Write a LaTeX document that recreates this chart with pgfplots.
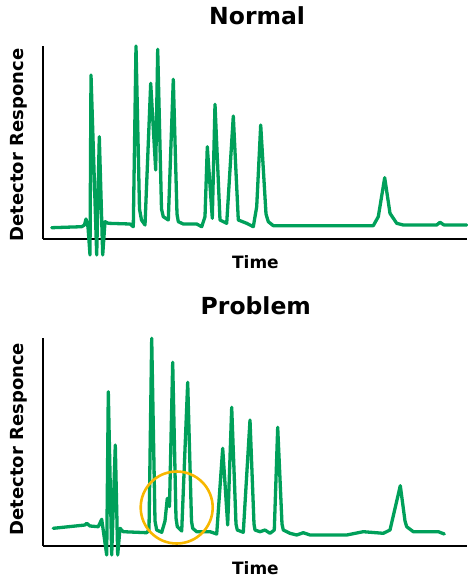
\documentclass[border=0pt]{standalone}
\usepackage{pgfplots}
\pgfplotsset{compat=1.18}
\usepackage{fontspec}
\setmainfont{DejaVu Sans}
\definecolor{tracegreen}{RGB}{0,160,90}
\definecolor{ringyellow}{RGB}{247,183,0}

\pgfplotstableread{
x y
51.7 11.3
81.7 12.3
84.5 14
86 20
88 12
90 -16
91 164
96.7 -16
99.3 102.3
102.7 -16
105 17.3
108.3 15.7
130 15
133.3 12.3
136 193
139.5 30
141.5 19
145 14
150.7 155.7
155.7 69
157.7 189.7
161.5 30
163.3 22.3
168.3 19
173.3 159.7
177 25
178.3 17.3
183.3 15
196.7 15
201.7 12.3
205 22.3
207.3 92.3
212.3 20.7
215 134.7
220 19
226.7 15.7
233.3 123
238.3 19
246.7 15.7
253.3 12.3
256.7 32.3
260.7 114
266 25
268.3 17.3
273.3 13.3
373.3 13.3
378.3 22.3
384.7 61.3
390 25.7
396.7 15.7
403.3 14
436.7 14
440 16.7
444 14
466.7 14
}\normaltrace

\pgfplotstableread{
x y
53.3 17.7
85 21
86.7 22.7
90 20
98.3 19.3
101.7 26.7
106.7 -9
108.3 154.3
111.7 -9
115.3 101
117.7 -9
120 17.7
123.3 14.3
146.7 13.3
149 16
151.7 207.7
155 25
156.7 16
161.7 13.7
165 25
167.3 47.7
169.5 39.5
172.7 183.7
176 28
177.3 19.3
181.7 15
187.7 163.7
191.5 25
192.7 17.7
196.7 14.3
210 14.3
216.7 12
222.7 97.7
227.7 21
231.7 138.7
236 22
237.3 16
243.3 13.7
250 126
254 22
255 16
260 14.3
265 16
270 12.7
274.3 16
277.7 118.7
282 22
283.3 16
290 12.7
296.7 11
303.3 13.3
310 11
346.7 11
363.3 14.3
383.3 12.7
390 16
400.3 60.3
405 25
406.7 19.3
413.3 14.3
438.3 14.3
444.3 12
}\problemtrace

\pgfplotsset{
  panel/.style={
    x=1bp, y=1bp,
    anchor=south west,
    xmin=43, xmax=467,
    axis x line=bottom, axis y line=left,
    axis line style={-, line width=2.8bp, black},
    xtick=\empty, ytick=\empty,
    clip=false,
    title style={font=\fontsize{23.5bp}{27bp}\selectfont\bfseries, anchor=base},
    xlabel style={font=\fontsize{17bp}{20bp}\selectfont\bfseries, anchor=base},
    ylabel style={font=\fontsize{18bp}{21bp}\selectfont\bfseries, anchor=base},
  },
  chromline/.style={color=tracegreen, line width=3.3bp, line join=round, line cap=round, mark=none},
}

\begin{document}
\begin{tikzpicture}
\path[use as bounding box] (0,0) rectangle (468bp,-578bp);

\begin{axis}[panel,
  at={(43bp,-239bp)},
  ymin=0, ymax=193,
  title={Normal},
  title style={at={(axis description cs:0.505,1.078)}},
  xlabel={Time},
  xlabel style={at={(axis description cs:0.501,-0.155)}},
  ylabel={Detector Responce},
  ylabel style={at={(axis description cs:-0.046,0.487)}},
]
\addplot[chromline] table[x=x,y=y] {\normaltrace};
\end{axis}

\begin{axis}[panel,
  at={(43bp,-546bp)},
  ymin=0, ymax=208,
  title={Problem},
  title style={at={(axis description cs:0.502,1.082)}},
  xlabel={Time},
  xlabel style={at={(axis description cs:0.501,-0.139)}},
  ylabel={Detector Responce},
  ylabel style={at={(axis description cs:-0.046,0.514)}},
]
\addplot[chromline] table[x=x,y=y] {\problemtrace};
\draw[ringyellow, line width=2.6bp] (axis cs:176.7,38.5) circle[radius=36bp];
\end{axis}
\end{tikzpicture}
\end{document}
